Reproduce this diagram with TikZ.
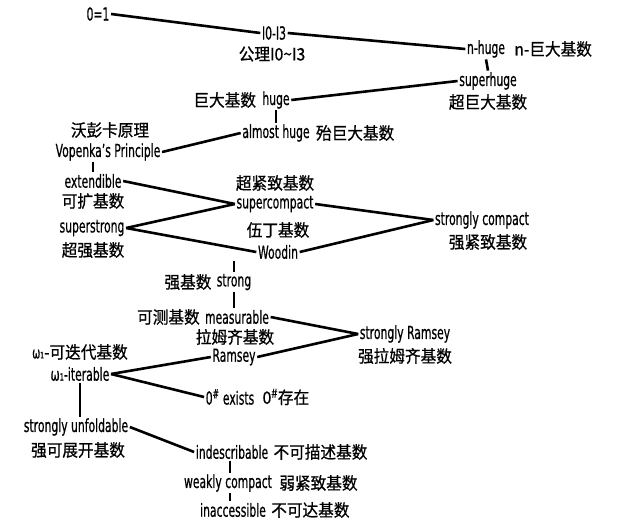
\documentclass[tikz,border=0pt]{standalone}
\usepackage{fontspec}
\setmainfont{DejaVu Sans}[FakeStretch=0.6,FakeBold=0.6]
\newfontfamily\cjk{Noto Sans CJK SC}[FakeStretch=0.92,FakeBold=0.8]
\begin{document}
\begin{tikzpicture}[x=1pt,y=-1pt,
  t/.style={inner sep=1.5pt,font=\fontsize{18}{18}\selectfont},
  c/.style={inner sep=1.5pt,font=\fontsize{17}{17}\selectfont\cjk},
  l/.style={line width=2.6pt}]
\useasboundingbox (0,0) rectangle (617,522);
\node[t] (z) at (98,14) {0=1};
\node[t] (i0) at (274,33) {I0-I3};
\node[c] (i0c) at (272,54) {公理I0\textasciitilde I3};
\node[t] (nh) at (486,49) {n-huge};
\node[c,anchor=west] (nhc) at ([xshift=6pt]nh.east) {n-巨大基数};
\node[t] (sh) at (488,81) {superhuge};
\node[c] (shc) at (488,102) {超巨大基数};
\node[t] (hg) at (276,100) {huge};
\node[c,anchor=east] (hgc) at ([xshift=-3pt]hg.west) {巨大基数};
\node[t] (ah) at (276,133) {almost huge};
\node[c,anchor=west] (ahc) at ([xshift=3pt]ah.east) {殆巨大基数};
\node[c] (vpc) at (110,130) {沃彭卡原理};
\node[t] (vp) at (108,152) {Vopenka's Principle};
\node[t] (ex) at (93,181) {extendible};
\node[c] (exc) at (93,201) {可扩基数};
\node[c] (scc) at (275,183) {超紧致基数};
\node[t] (sc) at (275,204) {supercompact};
\node[t] (sk) at (482,220) {strongly compact};
\node[c] (skc) at (488,242) {强紧致基数};
\node[t] (ss) at (92,228) {superstrong};
\node[c] (ssc) at (93,250) {超强基数};
\node[c] (wdc) at (278,230) {伍丁基数};
\node[t] (wd) at (278,252) {Woodin};
\node[t] (st) at (234,282) {strong};
\node[c,anchor=east] (stc) at ([xshift=-2pt]st.west) {强基数};
\node[t] (ms) at (237,317) {measurable};
\node[c,anchor=east] (msc) at ([xshift=-2pt]ms.west) {可测基数};
\node[c] (rmc) at (235,337) {拉姆齐基数};
\node[t] (rm) at (234,357) {Ramsey};
\node[t] (sr) at (405,334) {strongly Ramsey};
\node[c] (src) at (405,356) {强拉姆齐基数};
\node[c] (itc) at (80,352) {{\normalfont\fontsize{16}{16}\selectfont ω₁}-可迭代基数};
\node[t] (it) at (80,374) {ω₁-iterable};
\node[t] (zs) at (230,397) {0\textsuperscript{\#} exists};
\node[c,anchor=west] (zsc) at ([xshift=5pt]zs.east) {0\textsuperscript{\#}存在};
\node[t] (su) at (76,427) {strongly unfoldable};
\node[c] (suc) at (78,450) {强可展开基数};
\node[t] (id) at (232,452) {indescribable};
\node[c,anchor=west] (idc) at ([xshift=2pt]id.east) {不可描述基数};
\node[t] (wc) at (228,483) {weakly compact};
\node[c,anchor=west] (wcc) at ([xshift=4pt]wc.east) {弱紧致基数};
\node[t] (ia) at (233,510) {inaccessible};
\node[c,anchor=west] (iac) at ([xshift=2pt]ia.east) {不可达基数};
\begin{scope}[l]
\draw (z.east) -- (i0.west);
\draw (i0.east) -- (nh.west);
\draw (nh.south) -- (sh.north);
\draw (hg.east) -- (sh.west);
\draw (hg.south) -- (ah.north -| hg.south);
\draw (vp.east) -- (ah.west);
\draw (vp.south -| ex.north) -- (ex.north);
\draw (ex.east) -- (sc.west);
\draw (ss.east) -- (sc.west);
\draw (ss.east) -- (wd.west);
\draw (sc.east) -- (sk.west);
\draw (wd.east) -- (sk.west);
\draw (wd.south -| st.north) -- (st.north);
\draw (st.south) -- (ms.north -| st.south);
\draw (ms.east) -- (sr.west);
\draw (rm.east) -- (sr.west);
\draw (it.east) -- (rm.west);
\draw (it.east) -- (zs.west);
\draw (it.south) -- (su.north -| it.south);
\draw (su.east) -- (id.west);
\draw (id.south -| 230,0) -- (wc.north -| 230,0);
\draw (wc.south -| 230,0) -- (ia.north -| 230,0);
\end{scope}
\end{tikzpicture}
\end{document}
